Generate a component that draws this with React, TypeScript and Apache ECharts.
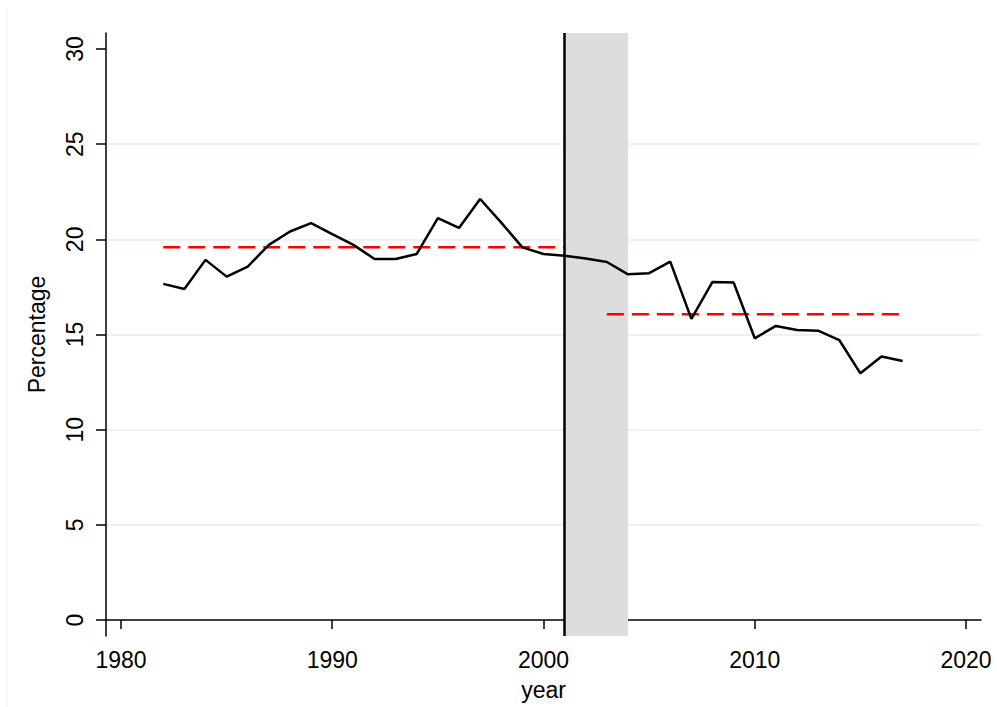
import React, { useEffect, useRef } from "react";
import * as echarts from "echarts";

const years = [
  1982, 1983, 1984, 1985, 1986, 1987, 1988, 1989, 1990, 1991, 1992, 1993,
  1994, 1995, 1996, 1997, 1998, 1999, 2000, 2001, 2002, 2003, 2004, 2005,
  2006, 2007, 2008, 2009, 2010, 2011, 2012, 2013, 2014, 2015, 2016, 2017,
];
const percentage = [
  17.66, 17.39, 18.92, 18.04, 18.57, 19.71, 20.41, 20.85, 20.27, 19.71, 18.97,
  18.97, 19.23, 21.12, 20.6, 22.12, 20.88, 19.58, 19.23, 19.14, 18.99, 18.81,
  18.16, 18.22, 18.83, 15.82, 17.76, 17.73, 14.8, 15.45, 15.24, 15.2, 14.71,
  12.96, 13.84, 13.61,
];
const xTicks = [1980, 1990, 2000, 2010, 2020];
const yTicks = [0, 5, 10, 15, 20, 25, 30];
const preMean = 19.58;
const preRange = [1982, 2001];
const postMean = 16.06;
const postRange = [2003, 2017];
const breakYear = 2001;
const shadeRange = [2001, 2004];

const FONT = "Liberation Sans, Arial, sans-serif";

export default function App() {
  const ref = useRef<HTMLDivElement>(null);
  useEffect(() => {
    if (!ref.current) return;
    const chart = echarts.init(ref.current, null, { renderer: "svg" });
    const option: any = {
      animation: false,
      backgroundColor: "#ffffff",
      textStyle: { fontFamily: FONT },
      graphic: [
        {
          type: "line",
          shape: { x1: 7, y1: 8, x2: 7, y2: 707 },
          style: { stroke: "#eeeeee", lineWidth: 1 },
          silent: true,
        },
      ],
      grid: {
        left: 106,
        right: 16,
        top: 33,
        bottom: 71,
        containLabel: false,
        outerBoundsMode: "none",
      },
      xAxis: {
        type: "value",
        min: 1979.29,
        max: 2020.71,
        name: "year",
        nameLocation: "middle",
        nameGap: 42,
        nameTextStyle: { fontSize: 23, color: "#000", fontFamily: FONT },
        axisLine: { show: true, lineStyle: { color: "#000", width: 1.5 } },
        axisTick: {
          show: true,
          length: 9,
          customValues: xTicks,
          lineStyle: { color: "#000", width: 1.5 },
        },
        axisLabel: {
          customValues: xTicks,
          formatter: (v: number) => String(v),
          fontSize: 23,
          color: "#000",
          fontFamily: FONT,
          margin: 12,
        },
        splitLine: { show: false },
      },
      yAxis: {
        type: "value",
        min: -0.84,
        max: 30.84,
        name: "Percentage",
        nameLocation: "middle",
        nameGap: 58,
        nameRotate: 90,
        nameTextStyle: { fontSize: 23, color: "#000", fontFamily: FONT },
        axisLine: { show: true, lineStyle: { color: "#000", width: 1.5 } },
        axisTick: {
          show: true,
          length: 10,
          customValues: yTicks,
          lineStyle: { color: "#000", width: 1.5 },
        },
        axisLabel: {
          customValues: yTicks,
          formatter: (v: number) => String(v),
          rotate: 90,
          fontSize: 23,
          color: "#000",
          fontFamily: FONT,
          margin: 20,
        },
        splitLine: {
          show: true,
          showMinLine: false,
          showMaxLine: false,
          lineStyle: { color: "#eaf2f3", width: 2 },
        },
      },
      series: [
        {
          type: "line",
          data: [],
          z: 1,
          silent: true,
          markArea: {
            silent: true,
            itemStyle: { color: "#dddddd" },
            data: [[{ xAxis: shadeRange[0] }, { xAxis: shadeRange[1] }]],
          },
          markLine: {
            silent: true,
            symbol: "none",
            label: { show: false },
            lineStyle: { color: "#000", width: 2.5, type: "solid" },
            data: [{ xAxis: breakYear }],
          },
        },
        {
          type: "line",
          data: [
            [preRange[0], preMean],
            [preRange[1], preMean],
          ],
          showSymbol: false,
          z: 3,
          lineStyle: { color: "#ff0000", width: 2.5, type: [17, 8] },
        },
        {
          type: "line",
          data: [
            [postRange[0], postMean],
            [postRange[1], postMean],
          ],
          showSymbol: false,
          z: 3,
          lineStyle: { color: "#ff0000", width: 2.5, type: [17, 8] },
        },
        {
          type: "line",
          data: years.map((y, i) => [y, percentage[i]]),
          showSymbol: false,
          z: 4,
          lineStyle: { color: "#000000", width: 2.5 },
        },
      ],
    };
    chart.setOption(option);
    return () => chart.dispose();
  }, []);
  return (
    <div
      ref={ref}
      style={{ position: "fixed", left: 0, top: 0, width: 997, height: 707 }}
    />
  );
}
